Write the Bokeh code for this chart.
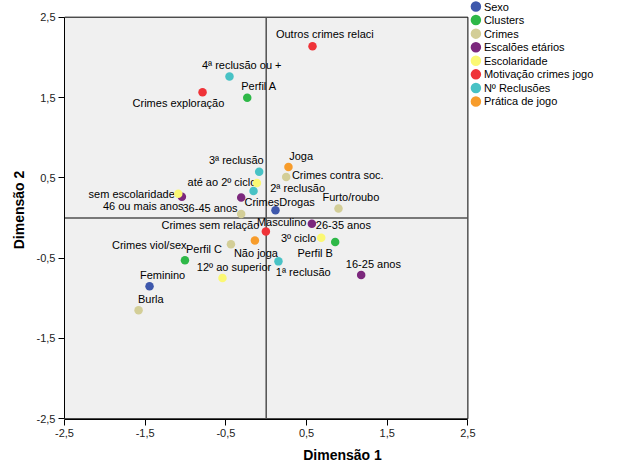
import numpy as np
from bokeh.plotting import figure
from bokeh.models import ColumnDataSource, Range1d, FixedTicker
from bokeh.transform import factor_cmap
from bokeh.core.properties import value
from bokeh.embed import file_html
from bokeh.resources import INLINE

# ---------------- data ----------------
categories = ["Sexo", "Clusters", "Crimes", "Escalões etários", "Escolaridade",
              "Motivação crimes jogo", "Nº Reclusões", "Prática de jogo"]
colors = ["#3E58AC", "#2EB848", "#D3CE97", "#7C287D", "#FBF873",
          "#EF3338", "#48C2C5", "#F79C2B"]

labels = ["Masculino", "Feminino",
          "Perfil A", "Perfil B", "Perfil C",
          "Crimes contra soc.", "CrimesDrogas", "Furto/roubo", "Crimes viol/sex", "Burla",
          "46 ou mais anos", "36-45 anos", "26-35 anos", "16-25 anos",
          "sem escolaridade", "até ao 2º ciclo", "3º ciclo", "12º ao superior",
          "Outros crimes relaci", "Crimes exploração", "Crimes sem relação",
          "4ª reclusão ou +", "3ª reclusão", "2ª reclusão", "1ª reclusão",
          "Joga", "Não joga"]
groups = (["Sexo"] * 2 + ["Clusters"] * 3 + ["Crimes"] * 5 + ["Escalões etários"] * 4 +
          ["Escolaridade"] * 4 + ["Motivação crimes jogo"] * 3 + ["Nº Reclusões"] * 4 +
          ["Prática de jogo"] * 2)
dim1 = [0.115, -1.446,
        -0.235, 0.855, -1.007,
        0.248, -0.310, 0.896, -0.437, -1.582,
        -1.045, -0.310, 0.566, 1.177,
        -1.090, -0.115, 0.682, -0.542,
        0.574, -0.789, -0.004,
        -0.455, -0.087, -0.157, 0.152,
        0.276, -0.140]
dim2 = [0.095, -0.851,
        1.496, -0.299, -0.527,
        0.510, 0.050, 0.119, -0.328, -1.149,
        0.265, 0.256, -0.071, -0.709,
        0.302, 0.435, -0.245, -0.746,
        2.139, 1.567, -0.167,
        1.761, 0.576, 0.336, -0.540,
        0.634, -0.279]

ticks = [-2.5, -1.5, -0.5, 0.5, 1.5, 2.5]
tick_labels = ["-2,5", "-1,5", "-0,5", "0,5", "1,5", "2,5"]

# label placement (screen px: left edge / vertical centre relative to point)
label_dx = [-18.6, -9.6,
            -6, -37.7, 1,
            5.7, 3.3, -16, -119, -0.6,
            -79, -58.7, 4, -15.3,
            -89.7, -69.4, -40.3, -25.6,
            -36.6, -70, -104.4,
            -27.6, -50.3, 16.7, -2.6,
            0.7, -21]
label_dy = [11.6, -11.4,
            -11.7, 11, -11.7,
            -2, -12, -11.4, 1, -11.4,
            9.7, 10.6, 1, -11,
            0, -1.3, 0, -11,
            -12, 10.7, -6.7,
            -11.4, -11.7, -3.3, 10.6,
            -10.6, 12.6]

FONT = value("Liberation Sans")

# ---------------- layout geometry ----------------
lo, hi = ticks[0], ticks[-1]
PX_X = 403.4 / (hi - lo)   # px per unit
PX_Y = 401.6 / (hi - lo)
TOP_GAP = 16.7             # px between frame top and box top
LEFT, BOTTOM = 64, 48
FRAME_W, FRAME_H = 556, 419
x_end = lo + FRAME_W / PX_X
y_end = hi + TOP_GAP / PX_Y
y_start = y_end - FRAME_H / PX_Y

p = figure(width=LEFT + FRAME_W, height=FRAME_H + BOTTOM,
           x_range=Range1d(lo, x_end), y_range=Range1d(y_start, y_end),
           output_backend="svg", toolbar_location=None,
           min_border_left=LEFT, min_border_right=0, min_border_top=0,
           min_border_bottom=BOTTOM,
           background_fill_color="white", border_fill_color="white",
           outline_line_color=None)
p.grid.visible = False

for ax, name in ((p.xaxis, "Dimensão 1"), (p.yaxis, "Dimensão 2")):
    ax.ticker = FixedTicker(ticks=ticks)
    ax.bounds = (lo, hi)
    ax.major_label_overrides = {t: s for t, s in zip(ticks, tick_labels)}
    ax.axis_label = name
    ax.axis_label_text_font = "Liberation Sans"
    ax.axis_label_text_font_style = "bold"
    ax.axis_label_text_font_size = "14px"
    ax.axis_label_text_color = "black"
    ax.major_label_text_font = "Liberation Sans"
    ax.major_label_text_font_size = "11px"
    ax.major_label_text_color = "#222222"
    ax.major_tick_out = 6
    ax.major_tick_in = 0
    ax.minor_tick_out = 0
    ax.minor_tick_in = 0
    ax.axis_line_color = "black"
    ax.major_tick_line_color = "black"
    ax.major_label_standoff = 3
p.xaxis.axis_label_standoff = 7
p.yaxis.axis_label_standoff = 7

# plot box
p.quad(left=[lo], right=[hi], bottom=[lo], top=[hi],
       fill_color="#F0F0F0", line_color="black", line_width=1)
# reference lines through the origin
p.segment(x0=[0, lo], y0=[lo, 0], x1=[0, hi], y1=[hi, 0],
          line_color="#505050", line_width=1.5)

src = ColumnDataSource(dict(x=dim1, y=dim2, label=labels, group=groups,
                            dx=label_dx, dy=label_dy))
p.text(x="x", y="y", text="label", x_offset="dx", y_offset="dy", source=src,
       text_font=FONT, text_font_size="11px", text_color="black",
       text_align="left", text_baseline="middle")
p.scatter(x="x", y="y", source=src, size=8.5, line_color=None,
          fill_color=factor_cmap("group", palette=colors, factors=categories))

# ---------------- legend (right of the box, above its top) ----------------
n = len(categories)
lg_x = hi + 8 / PX_X
lg_tx = hi + 16 / PX_X
lg_y = y_end - (6 + 13.57 * np.arange(n)) / PX_Y
lsrc = ColumnDataSource(dict(x=[lg_x] * n, tx=[lg_tx] * n, y=list(lg_y),
                             label=categories, color=colors))
p.scatter(x="x", y="y", source=lsrc, size=10.5, fill_color="color", line_color=None)
p.text(x="tx", y="y", text="label", source=lsrc, text_font=FONT,
       text_font_size="11px", text_color="black", text_align="left",
       text_baseline="middle")

open("out.html", "w").write(file_html(p, INLINE))
